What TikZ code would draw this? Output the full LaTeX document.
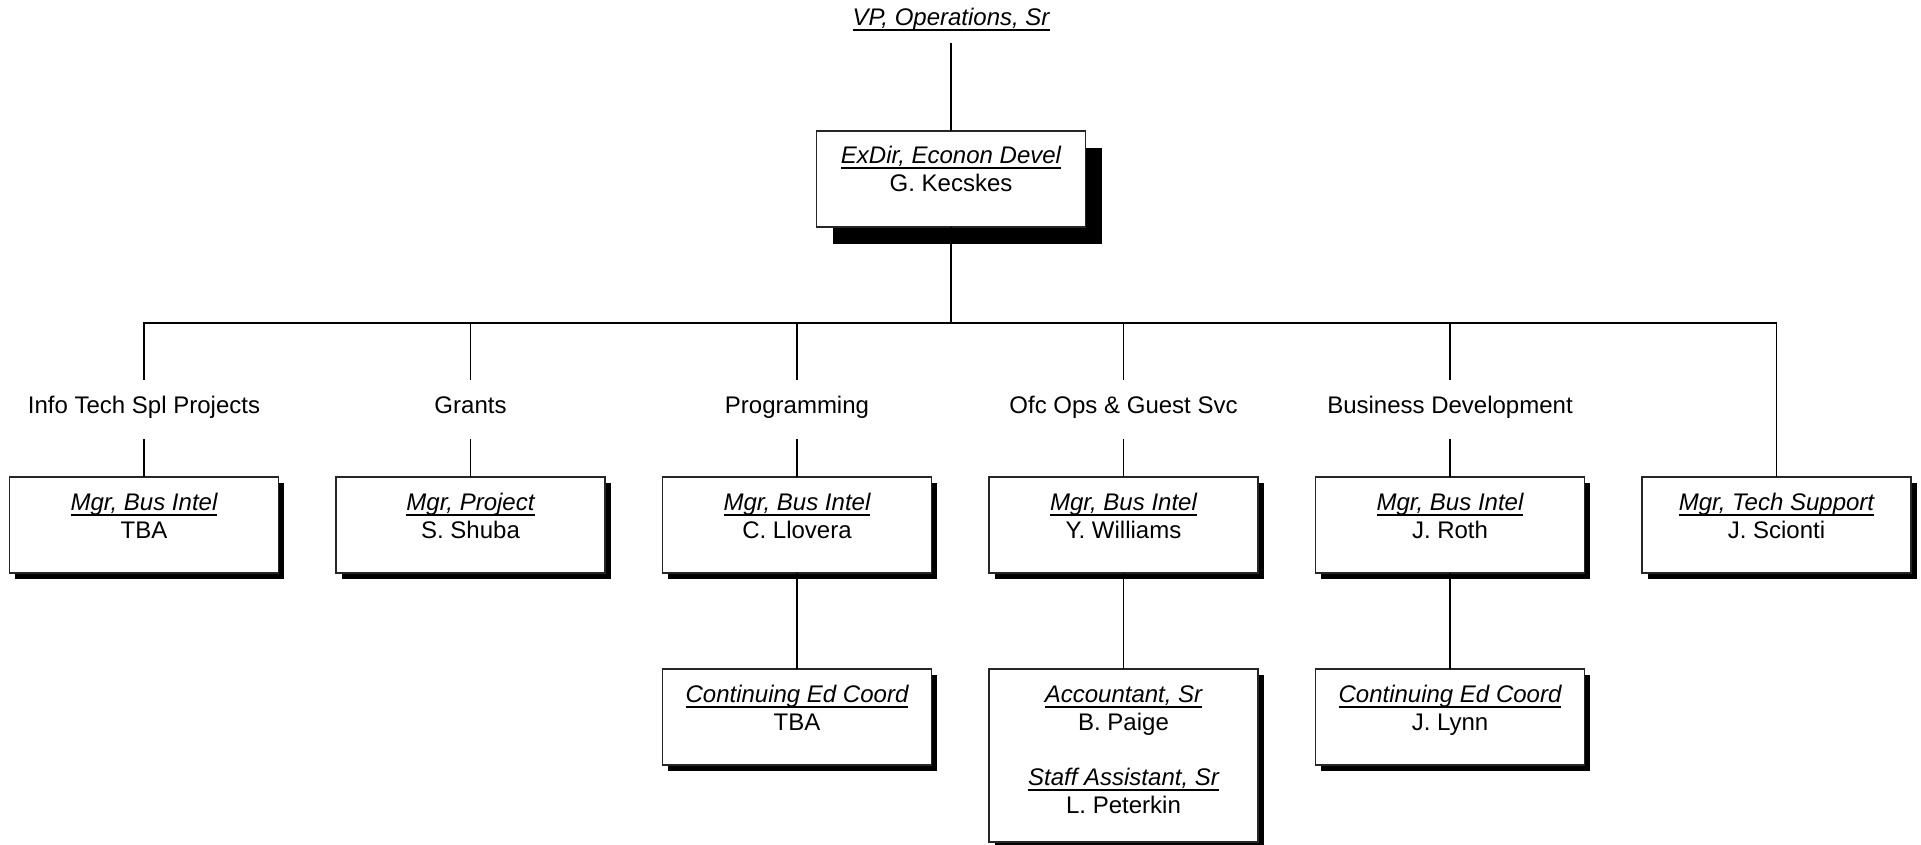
\documentclass[tikz,border=0pt]{standalone}
\usepackage{fontspec}
\setmainfont{Liberation Sans}
\usetikzlibrary{shadows}
\newcommand\ulit[1]{\leavevmode\setbox0=\hbox{\itshape #1}\rlap{\rule[-5.5pt]{\wd0}{1.8pt}}\box0}
\newcommand\boxtext[3][96pt]{\parbox[c][#1][t]{269pt}{\centering\vspace*{#2}\rule{0pt}{18pt}#3}}
\tikzset{
  every node/.style={font=\fontsize{24}{28}\selectfont},
  conn/.style={line width=1.3pt, black},
  boxbase/.style={draw=black!85, line width=1.3pt, fill=white, inner sep=0pt, outer sep=0pt, anchor=north},
  orgbox/.style={boxbase, drop shadow={shadow xshift=5.5pt, shadow yshift=-5.5pt, opacity=1, fill=black}},
  bigbox/.style={boxbase, drop shadow={shadow xshift=16pt, shadow yshift=-17pt, opacity=1, fill=black}},
  lbl/.style={inner sep=0pt, outer sep=0pt, text height=33pt, text depth=26pt, anchor=base},
  toplbl/.style={inner sep=0pt, outer sep=0pt, text depth=18pt, anchor=base}
}
\begin{document}
\begin{tikzpicture}[x=1pt,y=-1pt]
\fill[white] (0,0) rectangle (1921,844);
\useasboundingbox (0,0) rectangle (1921,844);

% top
\node[toplbl] (vp) at (951,25) {\ulit{VP, Operations, Sr}};
\node[bigbox] (ex) at (951,131) {\boxtext{14pt}{\ulit{ExDir, Econon Devel}\\G. Kecskes}};
\coordinate (bus) at (951,323);

% column labels
\node[lbl] (l1) at (144,413) {Info Tech Spl Projects};
\node[lbl] (l2) at (470.5,413) {Grants};
\node[lbl] (l3) at (797,413) {Programming};
\node[lbl] (l4) at (1123.5,413) {Ofc Ops \& Guest Svc};
\node[lbl] (l5) at (1450,413) {Business Development};

% level 2 boxes
\node[orgbox] (m1) at (144,477) {\boxtext{15.5pt}{\ulit{Mgr, Bus Intel}\\TBA}};
\node[orgbox] (m2) at (470.5,477) {\boxtext{15.5pt}{\ulit{Mgr, Project}\\S. Shuba}};
\node[orgbox] (m3) at (797,477) {\boxtext{15.5pt}{\ulit{Mgr, Bus Intel}\\C. Llovera}};
\node[orgbox] (m4) at (1123.5,477) {\boxtext{15.5pt}{\ulit{Mgr, Bus Intel}\\Y. Williams}};
\node[orgbox] (m5) at (1450,477) {\boxtext{15.5pt}{\ulit{Mgr, Bus Intel}\\J. Roth}};
\node[orgbox] (m6) at (1776.5,477) {\boxtext{15.5pt}{\ulit{Mgr, Tech Support}\\J. Scionti}};

% level 3 boxes
\node[orgbox] (c3) at (797,669) {\boxtext{15pt}{\ulit{Continuing Ed Coord}\\TBA}};
\node[orgbox] (c4) at (1123.5,669) {\boxtext[173pt]{15pt}{\ulit{Accountant, Sr}\\B. Paige\\[27pt]\ulit{Staff Assistant, Sr}\\L. Peterkin}};
\node[orgbox] (c5) at (1450,669) {\boxtext{15pt}{\ulit{Continuing Ed Coord}\\J. Lynn}};

% connectors
\draw[conn] (vp.south) -- (ex.north);
\draw[conn] (ex.south) -- (bus);
\draw[conn] (bus) -| (l1.north);
\draw[conn] (bus) -| (l2.north);
\draw[conn] (bus) -| (l3.north);
\draw[conn] (bus) -| (l4.north);
\draw[conn] (bus) -| (l5.north);
\draw[conn] (bus) -| (m6.north);
\draw[conn] (l1.south) -- (m1.north);
\draw[conn] (l2.south) -- (m2.north);
\draw[conn] (l3.south) -- (m3.north);
\draw[conn] (l4.south) -- (m4.north);
\draw[conn] (l5.south) -- (m5.north);
\draw[conn] (m3.south) -- (c3.north);
\draw[conn] (m4.south) -- (c4.north);
\draw[conn] (m5.south) -- (c5.north);
\end{tikzpicture}
\end{document}
